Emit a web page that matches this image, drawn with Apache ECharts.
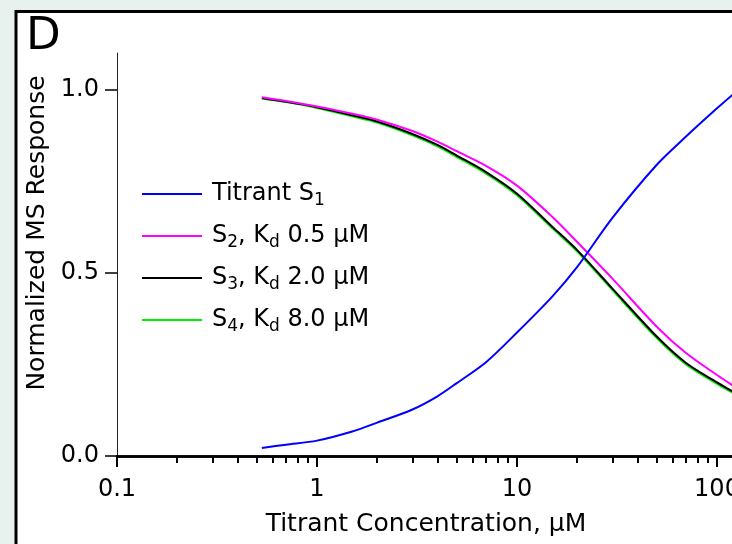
<!DOCTYPE html>
<html>
<head>
<meta charset="utf-8">
<script src="https://cdn.jsdelivr.net/npm/echarts@6/dist/echarts.min.js"></script>
<style>html,body{margin:0;padding:0;background:#e9f1ef;}#chart{width:732px;height:544px;}</style>
</head>
<body>
<div id="chart"></div>
<script>
// Data
const xValues = [0.53, 0.7, 1, 1.5, 2, 3, 4, 5, 7, 10, 15, 20, 30, 50, 70, 100, 125];
const titrantS1 = [0.022, 0.031, 0.042, 0.067, 0.091, 0.127, 0.163, 0.199, 0.256, 0.337, 0.435, 0.516, 0.650, 0.795, 0.872, 0.949, 0.995];
const s2Kd05 = [0.979, 0.969, 0.954, 0.934, 0.918, 0.887, 0.858, 0.832, 0.792, 0.738, 0.653, 0.584, 0.484, 0.353, 0.281, 0.221, 0.186];
const s3Kd20 = [0.977, 0.967, 0.952, 0.930, 0.913, 0.879, 0.849, 0.820, 0.775, 0.716, 0.626, 0.562, 0.457, 0.326, 0.254, 0.201, 0.170];
const s4Kd80 = [0.976, 0.966, 0.950, 0.927, 0.910, 0.875, 0.845, 0.816, 0.771, 0.712, 0.622, 0.558, 0.453, 0.322, 0.250, 0.197, 0.167];
const seriesNames = ['Titrant S1', 'S2, Kd 0.5 µM', 'S3, Kd 2.0 µM', 'S4, Kd 8.0 µM'];
const legendLabels = ['Titrant S{sub|1}', 'S{sub|2}, K{sub|d} 0.5 µM', 'S{sub|3}, K{sub|d} 2.0 µM', 'S{sub|4}, K{sub|d} 8.0 µM'];
const seriesColors = ['#0000ff', '#ff00ff', '#000000', '#00ee00'];
const xMajorTicks = [0.1, 1, 10, 100, 1000];
const xMinorTicks = [0.2, 0.3, 0.4, 0.5, 0.6, 0.7, 0.8, 0.9, 2, 3, 4, 5, 6, 7, 8, 9, 20, 30, 40, 50, 60, 70, 80, 90, 200, 300, 400, 500, 600, 700, 800, 900];
const yTicks = [0, 0.5, 1.0];
const xAxisTitle = 'Titrant Concentration, µM';
const yAxisTitle = 'Normalized MS Response';
const panelLetter = 'D';

const FONT = 'DejaVu Sans';
const seriesData = [titrantS1, s2Kd05, s3Kd20, s4Kd80];
const zOrder = [5, 4, 3, 2];

const chart = echarts.init(document.getElementById('chart'), null, {renderer: 'canvas'});
const mainSeries = seriesNames.map(function (name, i) {
  return {
    name: name, type: 'line', xAxisIndex: 0, yAxisIndex: 0,
    data: xValues.map(function (x, j) { return [x, seriesData[i][j]]; }),
    symbol: 'none', smooth: 0.3, z: zOrder[i],
    lineStyle: {color: seriesColors[i], width: 2}, itemStyle: {color: seriesColors[i]}
  };
});
// empty helper series so the minor-tick axis is bound to the grid
mainSeries.push({type: 'line', xAxisIndex: 1, yAxisIndex: 0, data: [], silent: true, symbol: 'none'});

chart.setOption({
  animation: false,
  backgroundColor: '#e9f1ef',
  graphic: {
    elements: [
      {type: 'rect', z: -100, shape: {x: 16, y: 11.5, width: 800, height: 600},
       style: {fill: '#ffffff', stroke: '#000000', lineWidth: 3}},
      {type: 'text', z: 10, x: 26, y: 37,
       style: {text: panelLetter, font: '45px "' + FONT + '"', fill: '#000', verticalAlign: 'middle', align: 'left'}},
      {type: 'text', z: 10, x: 37, y: 233, rotation: Math.PI / 2,
       style: {text: yAxisTitle, font: '25px "' + FONT + '"', fill: '#000', verticalAlign: 'middle', align: 'center'}},
      {type: 'text', z: 10, x: 426, y: 524,
       style: {text: xAxisTitle, font: '25px "' + FONT + '"', fill: '#000', verticalAlign: 'middle', align: 'center'}}
    ]
  },
  grid: {left: 117, top: 53, width: 800, height: 403, containLabel: false, outerBoundsMode: 'none'},
  legend: {
    orient: 'vertical', left: 142, top: 179, padding: 0,
    icon: 'rect', itemWidth: 60, itemHeight: 2, itemGap: 12,
    data: seriesNames,
    formatter: function (name) { return legendLabels[seriesNames.indexOf(name)]; },
    textStyle: {
      fontFamily: FONT, fontSize: 24, color: '#000', lineHeight: 30, padding: [0, 0, 0, 5],
      rich: {sub: {fontFamily: FONT, fontSize: 17, color: '#000', verticalAlign: 'bottom'}}
    }
  },
  xAxis: [
    {
      type: 'log', logBase: 10, min: 0.1, max: 1000, position: 'bottom',
      axisLine: {show: true, onZero: false, lineStyle: {color: '#000', width: 2.5}},
      axisTick: {show: true, inside: false, length: 11, customValues: xMajorTicks, lineStyle: {color: '#000', width: 2}},
      axisLabel: {show: true, customValues: xMajorTicks, margin: 22, fontFamily: FONT, fontSize: 24, color: '#000',
        formatter: function (v) { return String(v); }},
      splitLine: {show: false}, minorTick: {show: false}
    },
    {
      type: 'log', logBase: 10, min: 0.1, max: 1000, position: 'bottom', offset: 0,
      axisLine: {show: true, onZero: false, lineStyle: {color: '#000', width: 2.5}},
      axisTick: {show: true, inside: false, length: 7, customValues: xMinorTicks, lineStyle: {color: '#000', width: 2}},
      axisLabel: {show: false}, splitLine: {show: false}
    }
  ],
  yAxis: {
    type: 'value', min: 0, max: 1.1,
    axisLine: {show: true, lineStyle: {color: '#222', width: 1}},
    axisTick: {show: true, inside: false, length: 12, customValues: yTicks, lineStyle: {color: '#000', width: 1.5}},
    axisLabel: {show: true, customValues: yTicks, margin: 18, fontFamily: FONT, fontSize: 24, color: '#000',
      formatter: function (v) { return v.toFixed(1); }},
    splitLine: {show: false}
  },
  series: mainSeries
});
</script>
</body>
</html>
